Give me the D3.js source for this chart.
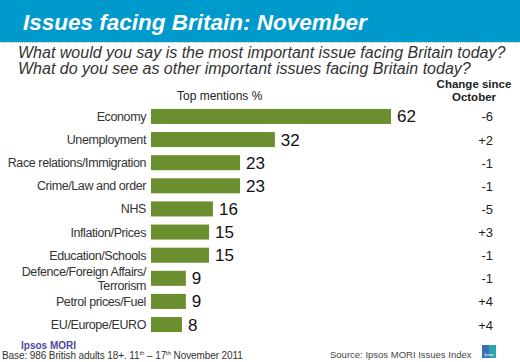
<!DOCTYPE html>
<html>
<head>
<meta charset="utf-8">
<script src="https://cdn.jsdelivr.net/npm/d3@7"></script>
<style>
body{margin:0;background:#fff;}
svg{display:block;font-family:Arial,"Liberation Sans",sans-serif;}
</style>
</head>
<body>
<svg id="chart"></svg>
<script>
const categories=['Economy','Unemployment','Race relations/Immigration','Crime/Law and order','NHS',
	'Inflation/Prices','Education/Schools','Defence/Foreign Affairs/\nTerrorism','Petrol prices/Fuel','EU/Europe/EURO'];
const mentions=[62,32,23,23,16,15,15,9,9,8];
const changes=['-6','+2','-1','-1','-5','+3','-1','-1','+4','+4'];

const W=520,H=362;
const svg=d3.select('#chart').attr('width',W).attr('height',H);

// header band
svg.append('rect').attr('x',0).attr('y',0).attr('width',W).attr('height',42).attr('fill','#0099cc');
svg.append('line').attr('x1',0).attr('x2',W).attr('y1',42.5).attr('y2',42.5)
	.attr('stroke','#9fd3e6').attr('stroke-dasharray','1,1');
svg.append('text').text('Issues facing Britain: November')
	.attr('x',23).attr('y',30).attr('fill','#fff')
	.style('font-size','22.5px').style('font-weight','bold').style('font-style','italic');

svg.append('text').text('What would you say is the most important issue facing Britain today?')
	.attr('x',18).attr('y',58).attr('fill','#333').style('font-size','16px').style('font-style','italic');
svg.append('text').text('What do you see as other important issues facing Britain today?')
	.attr('x',18).attr('y',74).attr('fill','#333').style('font-size','16px').style('font-style','italic');

svg.append('text').text('Top mentions %').attr('x',177).attr('y',100)
	.attr('fill','#222').style('font-size','12px');

const chg=svg.append('g').style('font-size','11.5px').style('font-weight','bold').attr('fill','#222');
chg.append('text').text('Change since').attr('x',474).attr('y',88).attr('text-anchor','middle');
chg.append('text').text('October').attr('x',474).attr('y',101).attr('text-anchor','middle');

const x=d3.scaleLinear().domain([0,62]).range([151,391]);
const y=d3.scaleBand().domain(categories).range([105,336]).paddingInner(0.35).paddingOuter(0.17);

svg.selectAll('rect.bar').data(mentions).enter().append('rect').attr('class','bar')
	.attr('x',x(0)).attr('y',(d,i)=>y(categories[i]))
	.attr('width',d=>x(d)-x(0)).attr('height',y.bandwidth())
	.attr('fill','#6b8e2e');

svg.selectAll('text.val').data(mentions).enter().append('text').attr('class','val')
	.text(d=>d).attr('x',d=>x(d)+6).attr('y',(d,i)=>y(categories[i])+y.bandwidth()/2+6)
	.attr('fill','#111').style('font-size','17px');

const labels=svg.append('g').attr('fill','#333').style('font-size','12.5px')
	.style('letter-spacing','-0.4px').attr('text-anchor','end');
categories.forEach((c,i)=>{
	const parts=c.split('\n');
	const cy=y(c)+y.bandwidth()/2;
	parts.forEach((p,j)=>{
		labels.append('text').text(p).attr('x',146)
			.attr('y',cy+4.5+(j-(parts.length-1)/2)*14);
	});
});

svg.selectAll('text.chg').data(changes).enter().append('text').attr('class','chg')
	.text(d=>d).attr('x',493).attr('text-anchor','end')
	.attr('y',(d,i)=>y(categories[i])+y.bandwidth()/2+5)
	.attr('fill','#222').style('font-size','13px');

// footer
svg.append('text').text('Ipsos MORI').attr('x',21).attr('y',349)
	.attr('fill','#4a4aa0').style('font-size','10px').style('font-weight','bold');
const base=svg.append('text').attr('x',2).attr('y',359).attr('fill','#333')
	.style('font-size','10px').style('letter-spacing','-0.1px');
base.append('tspan').text('Base: 986 British adults 18+. 11');
base.append('tspan').text('th').attr('dy',-4).style('font-size','6px');
base.append('tspan').text(' –  17').attr('dy',4);
base.append('tspan').text('th').attr('dy',-4).style('font-size','6px');
base.append('tspan').text(' November 2011').attr('dy',4);

svg.append('text').text('Source: Ipsos MORI Issues Index').attr('x',330).attr('y',358)
	.attr('fill','#444').style('font-size','9.5px');
svg.append('rect').attr('x',482).attr('y',345).attr('width',14).attr('height',13).attr('fill','#3a6fb0');
svg.append('rect').attr('x',489).attr('y',345).attr('width',7).attr('height',13).attr('fill','#2ab0b0').attr('opacity',0.8);
svg.append('text').text('Ipsos').attr('x',489).attr('y',356).attr('text-anchor','middle')
	.attr('fill','#fff').style('font-size','4px');
</script>
</body>
</html>
